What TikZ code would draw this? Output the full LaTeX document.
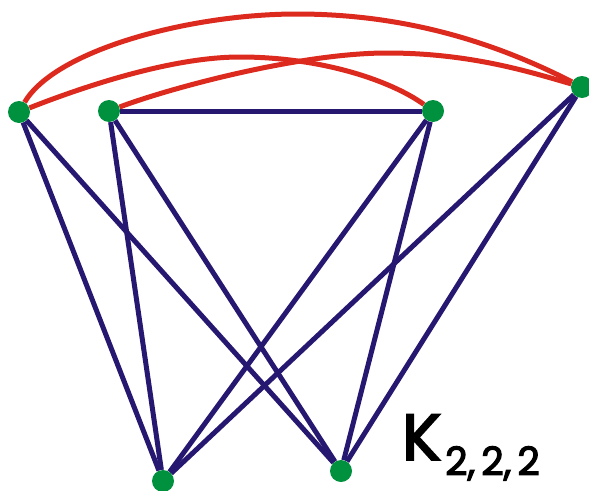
\documentclass[tikz,border=0pt]{standalone}
\usepackage{fontspec}
\setmainfont{Poppins}
\newfontfamily\lblfont{Poppins}[FakeBold=3]
\definecolor{vgreen}{HTML}{00913F}
\definecolor{bblue}{HTML}{261870}
\definecolor{rred}{HTML}{DC2A1E}
\pgfdeclarelayer{bg}
\pgfsetlayers{bg,main}
\begin{document}
\begin{tikzpicture}[x=1pt,y=-1pt,
  vtx/.style={circle,fill=vgreen,inner sep=0pt,minimum size=22pt},
  bedge/.style={draw=bblue,line width=5pt},
  redge/.style={draw=rred,line width=5pt}]
\useasboundingbox (0,0) rectangle (589,490);
\node[vtx] (A) at (19,112) {};
\node[vtx] (B) at (109,111) {};
\node[vtx] (C) at (433,111) {};
\node[vtx] (D) at (582,87) {};
\node[vtx] (E) at (163,481) {};
\node[vtx] (F) at (341,471) {};
\begin{pgfonlayer}{bg}
\draw[redge] (A) .. controls (55,50) and (190,14) .. (297,14)
                 .. controls (410,14) and (500,45) .. (D);
\draw[redge] (A) .. controls (80,88) and (170,57) .. (240,57)
                 .. controls (320,57) and (390,80) .. (C);
\draw[redge] (B) .. controls (170,88) and (300,53) .. (387,53)
                 .. controls (470,53) and (530,72) .. (D);
\draw[bedge] (A) -- (E);
\draw[bedge] (A) -- (F);
\draw[bedge] (B) -- (E);
\draw[bedge] (B) -- (F);
\draw[bedge] (B) -- (C);
\draw[bedge] (C) -- (E);
\draw[bedge] (C) -- (F);
\draw[bedge] (D) -- (E);
\draw[bedge] (D) -- (F);
\end{pgfonlayer}
\node[anchor=base west,inner sep=0pt] (lbl) at (402,460)
  {\lblfont\fontsize{65}{65}\selectfont K\kern4pt\raisebox{-15pt}{\fontsize{39}{39}\selectfont 2,\kern6pt2,\kern6pt2}};
\end{tikzpicture}
\end{document}
